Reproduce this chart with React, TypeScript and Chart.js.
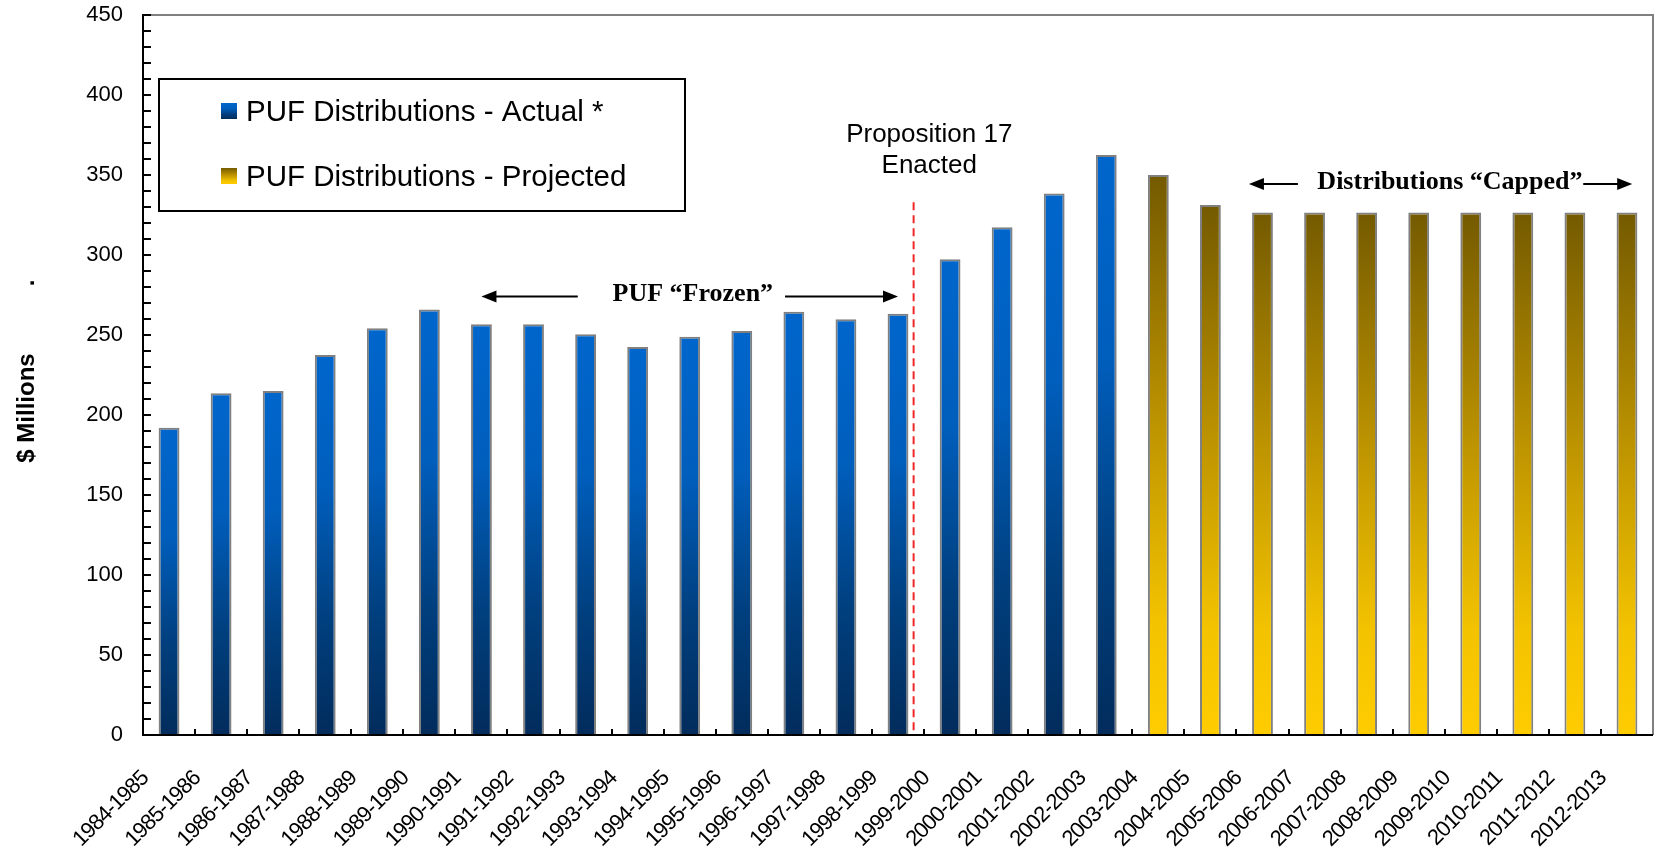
import React, { useEffect, useRef } from 'react';
import { Chart, registerables } from 'chart.js';

Chart.register(...registerables);

const categories = [
  '1984-1985', '1985-1986', '1986-1987', '1987-1988', '1988-1989', '1989-1990',
  '1990-1991', '1991-1992', '1992-1993', '1993-1994', '1994-1995', '1995-1996',
  '1996-1997', '1997-1998', '1998-1999', '1999-2000', '2000-2001', '2001-2002',
  '2002-2003', '2003-2004', '2004-2005', '2005-2006', '2006-2007', '2007-2008',
  '2008-2009', '2009-2010', '2010-2011', '2011-2012', '2012-2013',
];

const actualValues = [
  192, 213.6, 215, 237.5, 254.2, 266, 256.7, 256.7, 250.4, 242.5, 248.9, 252.5,
  264.6, 259.8, 263.3, 297.3, 317.3, 338.5, 362.5,
  null, null, null, null, null, null, null, null, null, null,
];

const projectedValues = [
  null, null, null, null, null, null, null, null, null, null, null, null,
  null, null, null, null, null, null, null,
  350, 331.2, 326.5, 326.5, 326.5, 326.5, 326.5, 326.5, 326.5, 326.5,
];

const seriesLabels = ['PUF Distributions - Actual *', 'PUF Distributions - Projected'];
const yAxisMin = 0;
const yAxisMax = 450;
const yMajorStep = 50;
const yMinorStep = 10;
const yAxisTitle = '$ Millions';
const propositionText = ['Proposition 17', 'Enacted'];
const frozenText = 'PUF \u201CFrozen\u201D';
const cappedText = 'Distributions \u201CCapped\u201D';

const SANS = '"Liberation Sans", Arial, Helvetica, sans-serif';
const SERIF = '"Liberation Serif", "Times New Roman", serif';

const blueStops: [number, string][] = [
  [0, '#0066CC'], [0.35, '#005EBC'], [0.7, '#003F7E'], [1, '#022C5C'],
];
const goldStops: [number, string][] = [
  [0, '#745A00'], [0.45, '#BE9400'], [0.8, '#F3C300'], [1, '#FFCC00'],
];

function makeGradient(ctx: CanvasRenderingContext2D, y0: number, y1: number, stops: [number, string][]) {
  const g = ctx.createLinearGradient(0, y0, 0, y1);
  stops.forEach(([o, c]) => g.addColorStop(o, c));
  return g;
}

function barFill(stops: [number, string][]) {
  return (c: any) => {
    const chart = c.chart;
    const fallback = stops[0][1];
    if (c.type !== 'data' || !chart.chartArea || !chart.scales || !chart.scales.y) return fallback;
    const v = c.raw;
    if (v === null || v === undefined) return fallback;
    const ys = chart.scales.y;
    return makeGradient(chart.ctx, ys.getPixelForValue(v), ys.getPixelForValue(0), stops);
  };
}

function drawArrow(ctx: CanvasRenderingContext2D, xStart: number, xTip: number, y: number) {
  const dir = xTip > xStart ? 1 : -1;
  const headLen = 15;
  const headHalf = 6;
  ctx.beginPath();
  ctx.moveTo(xStart, y);
  ctx.lineTo(xTip - dir * headLen + dir * 1, y);
  ctx.lineWidth = 2;
  ctx.strokeStyle = '#000';
  ctx.stroke();
  ctx.beginPath();
  ctx.moveTo(xTip, y);
  ctx.lineTo(xTip - dir * headLen, y - headHalf);
  ctx.lineTo(xTip - dir * headLen, y + headHalf);
  ctx.closePath();
  ctx.fillStyle = '#000';
  ctx.fill();
}

const decorPlugin = {
  id: 'decor',
  afterDatasetsDraw(chart: any) {
    const { ctx, chartArea: a, scales } = chart;
    const xs = scales.x;
    const ys = scales.y;
    ctx.save();

    // plot frame (top/right gray)
    ctx.strokeStyle = '#808080';
    ctx.lineWidth = 2;
    ctx.beginPath();
    ctx.moveTo(a.left, a.top);
    ctx.lineTo(a.right, a.top);
    ctx.lineTo(a.right, a.bottom);
    ctx.stroke();

    // axes
    ctx.strokeStyle = '#000';
    ctx.lineWidth = 2;
    ctx.beginPath();
    ctx.moveTo(a.left, a.top - 1);
    ctx.lineTo(a.left, a.bottom);
    ctx.lineTo(a.right, a.bottom);
    ctx.stroke();

    // y ticks (inward)
    for (let v = yAxisMin; v <= yAxisMax; v += yMinorStep) {
      const py = Math.round(ys.getPixelForValue(v));
      ctx.beginPath();
      ctx.moveTo(a.left, py);
      ctx.lineTo(a.left + 8, py);
      ctx.stroke();
    }
    // x ticks (inward) at category boundaries
    for (let i = 1; i < categories.length; i++) {
      const px = Math.round((xs.getPixelForValue(i - 1) + xs.getPixelForValue(i)) / 2);
      ctx.beginPath();
      ctx.moveTo(px, a.bottom);
      ctx.lineTo(px, a.bottom - 6);
      ctx.stroke();
    }

    // x category labels, rotated
    ctx.fillStyle = '#000';
    ctx.font = `22px ${SANS}`;
    (ctx as any).letterSpacing = '-1px';
    ctx.textAlign = 'right';
    ctx.textBaseline = 'alphabetic';
    const ang = (45 * Math.PI) / 180;
    categories.forEach((lab, i) => {
      const px = xs.getPixelForValue(i);
      ctx.save();
      ctx.translate(px - 31, a.bottom + 33);
      ctx.rotate(-ang);
      ctx.fillText(lab, 0, 16);
      ctx.restore();
    });
    (ctx as any).letterSpacing = '0px';

    // Proposition 17 dashed line
    const lineX = xs.getPixelForValue(14.3);
    ctx.strokeStyle = '#F02828';
    ctx.lineWidth = 2;
    ctx.setLineDash([8, 5]);
    ctx.beginPath();
    ctx.moveTo(lineX, ys.getPixelForValue(333));
    ctx.lineTo(lineX, a.bottom - 1);
    ctx.stroke();
    ctx.setLineDash([]);

    // Proposition text
    ctx.fillStyle = '#000';
    ctx.font = `26px ${SANS}`;
    ctx.textAlign = 'center';
    ctx.textBaseline = 'alphabetic';
    const propX = xs.getPixelForValue(14.6);
    ctx.fillText(propositionText[0], propX, ys.getPixelForValue(370.8));
    ctx.fillText(propositionText[1], propX, ys.getPixelForValue(351.4));

    // PUF Frozen
    ctx.font = `bold 26px ${SERIF}`;
    ctx.fillText(frozenText, xs.getPixelForValue(10.06), ys.getPixelForValue(271));
    const frozenY = ys.getPixelForValue(274);
    drawArrow(ctx, xs.getPixelForValue(7.85), xs.getPixelForValue(6.0), frozenY);
    drawArrow(ctx, xs.getPixelForValue(11.83), xs.getPixelForValue(14.0), frozenY);

    // Distributions Capped
    ctx.fillText(cappedText, xs.getPixelForValue(24.6), ys.getPixelForValue(341.25));
    const cappedY = ys.getPixelForValue(344.4);
    drawArrow(ctx, xs.getPixelForValue(21.68), xs.getPixelForValue(20.74), cappedY);
    drawArrow(ctx, xs.getPixelForValue(27.16), xs.getPixelForValue(28.1), cappedY);

    // Legend box
    const lx = a.left + 16;
    const ly = a.top + 64;
    ctx.fillStyle = '#fff';
    ctx.fillRect(lx, ly, 526, 132);
    ctx.strokeStyle = '#000';
    ctx.lineWidth = 2;
    ctx.strokeRect(lx, ly, 526, 132);
    const swX = lx + 62;
    const sw1Y = ly + 24;
    const sw2Y = ly + 89;
    ctx.fillStyle = makeGradient(ctx, sw1Y, sw1Y + 16, blueStops);
    ctx.fillRect(swX, sw1Y, 16, 16);
    ctx.fillStyle = makeGradient(ctx, sw2Y, sw2Y + 16, goldStops);
    ctx.fillRect(swX, sw2Y, 16, 16);
    ctx.fillStyle = '#000';
    ctx.font = `29.5px ${SANS}`;
    ctx.textAlign = 'left';
    ctx.fillText(seriesLabels[0], lx + 87, ly + 42);
    ctx.fillText(seriesLabels[1], lx + 87, ly + 107);

    // Y axis title
    ctx.save();
    ctx.translate(34, 408);
    ctx.rotate(-Math.PI / 2);
    ctx.font = `bold 24px ${SANS}`;
    ctx.textAlign = 'center';
    ctx.textBaseline = 'alphabetic';
    ctx.fillText(yAxisTitle, 0, 0);
    ctx.fillText('.', 408 - 283, 0);
    ctx.restore();

    ctx.restore();
  },
};

export default function App() {
  const canvasRef = useRef<HTMLCanvasElement | null>(null);

  useEffect(() => {
    const canvas = canvasRef.current;
    if (!canvas) return;
    const chart = new Chart(canvas, {
      type: 'bar',
      data: {
        labels: categories,
        datasets: [
          {
            label: seriesLabels[0],
            data: actualValues as any,
            backgroundColor: barFill(blueStops) as any,
            borderColor: '#808080',
            borderWidth: { top: 2, left: 2, right: 2, bottom: 0 } as any,
            borderSkipped: 'bottom',
            barPercentage: 0.4,
            categoryPercentage: 1,
            grouped: false,
          } as any,
          {
            label: seriesLabels[1],
            data: projectedValues as any,
            backgroundColor: barFill(goldStops) as any,
            borderColor: '#808080',
            borderWidth: { top: 2, left: 2, right: 2, bottom: 0 } as any,
            borderSkipped: 'bottom',
            barPercentage: 0.4,
            categoryPercentage: 1,
            grouped: false,
          } as any,
        ],
      },
      options: {
        animation: false,
        responsive: false,
        maintainAspectRatio: false,
        layout: { padding: { top: 15, right: 3, left: 0, bottom: 0 } },
        plugins: {
          legend: { display: false },
          tooltip: { enabled: false },
        },
        scales: {
          x: {
            grid: { display: false, drawTicks: false },
            border: { display: false },
            ticks: { display: false },
            afterFit: (s: any) => {
              s.height = 114;
              s.paddingLeft = 0;
              s.paddingRight = 0;
            },
          },
          y: {
            min: yAxisMin,
            max: yAxisMax,
            grid: { display: false, drawTicks: false },
            border: { display: false },
            ticks: {
              stepSize: yMajorStep,
              padding: 20,
              color: '#000',
              font: { family: SANS, size: 22 },
            },
            afterFit: (s: any) => {
              s.width = 143;
              s.paddingTop = 0;
              s.paddingBottom = 0;
            },
          },
        },
      },
      plugins: [decorPlugin],
    });
    return () => chart.destroy();
  }, []);

  return (
    <div style={{ position: 'absolute', left: 0, top: 0, width: 1656, height: 849, background: '#fff' }}>
      <canvas ref={canvasRef} width={1656} height={849} style={{ width: 1656, height: 849, display: 'block' }} />
    </div>
  );
}
